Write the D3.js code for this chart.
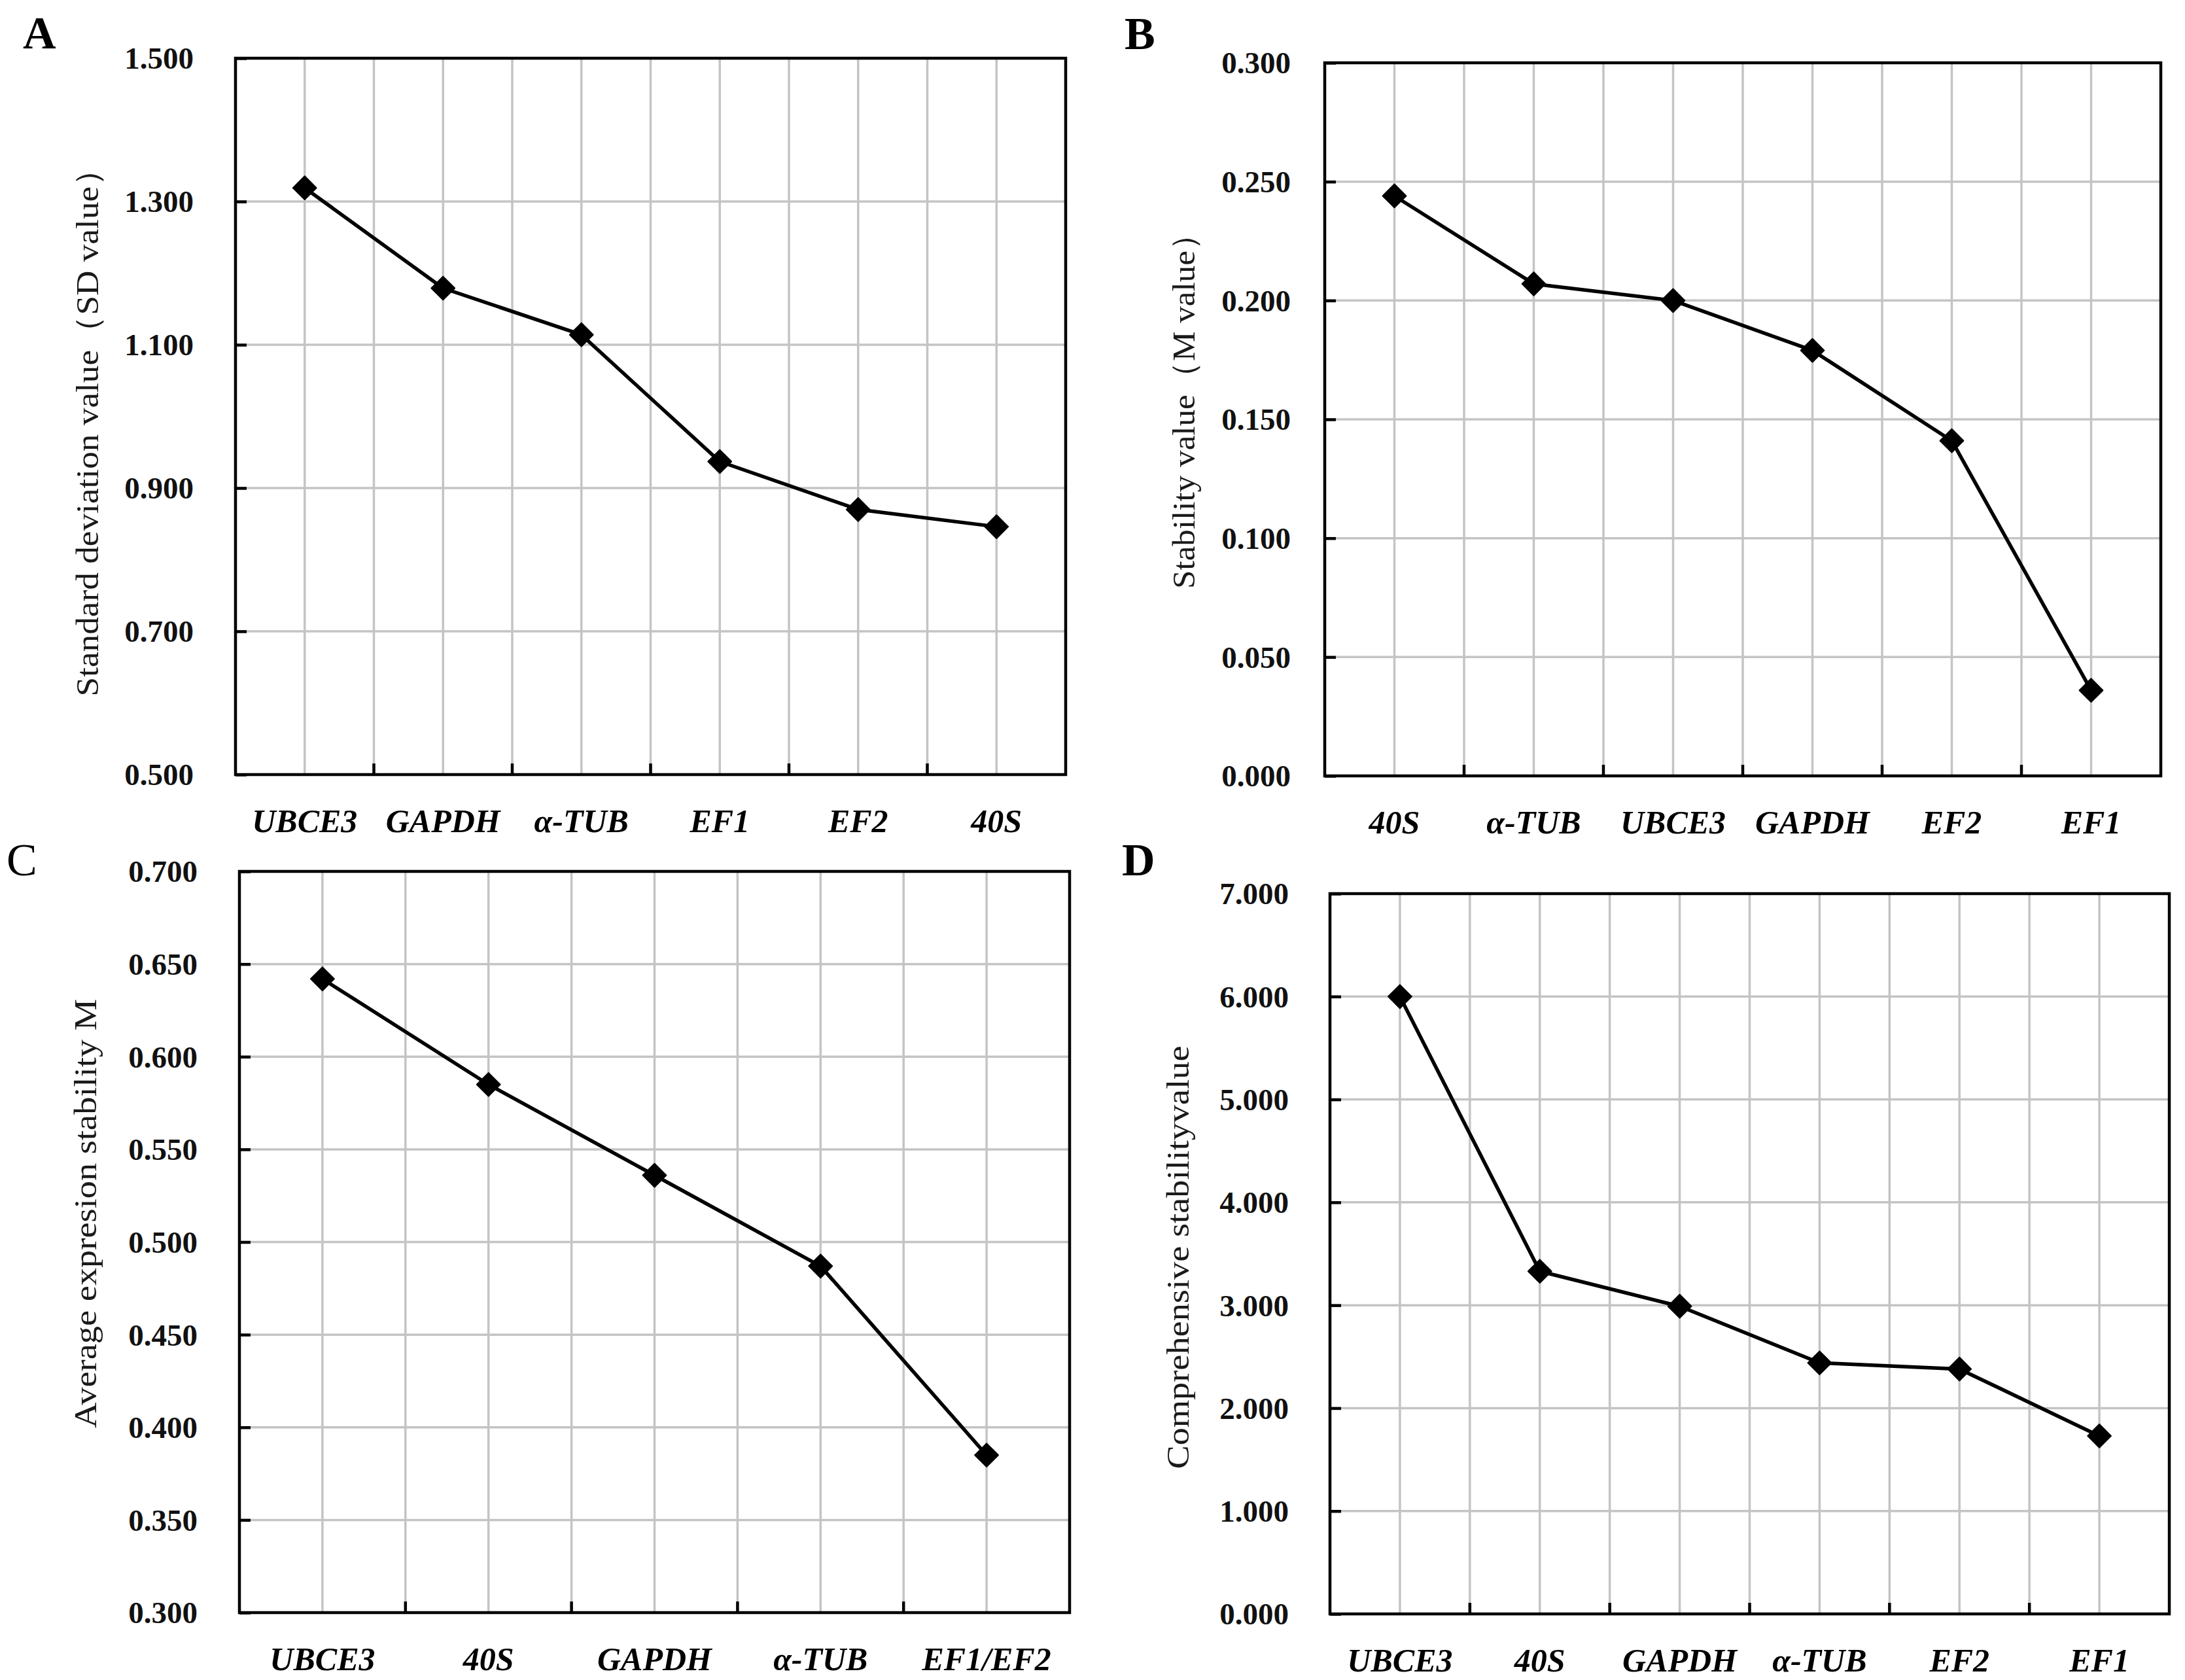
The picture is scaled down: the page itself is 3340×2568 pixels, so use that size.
<!DOCTYPE html>
<html>
<head>
<meta charset="utf-8">
<script src="https://cdn.jsdelivr.net/npm/d3@7"></script>
<style>
  html, body { margin: 0; padding: 0; background: #fff; }
  svg { display: block; }
</style>
</head>
<body>
<svg id="chart" width="3340" height="2568"></svg>
<script>
// ---------- DATA ----------
const catsA = ["UBCE3", "GAPDH", "α-TUB", "EF1", "EF2", "40S"];
const valsA = [1.319, 1.179, 1.114, 0.937, 0.870, 0.846];
const ticksA = [0.5, 0.7, 0.9, 1.1, 1.3, 1.5];
const titleA = "Standard deviation  value（SD value）";

const catsB = ["40S", "α-TUB", "UBCE3", "GAPDH", "EF2", "EF1"];
const valsB = [0.244, 0.207, 0.200, 0.179, 0.141, 0.036];
const ticksB = [0, 0.05, 0.10, 0.15, 0.20, 0.25, 0.30];
const titleB = "Stability value（M value）";

const catsC = ["UBCE3", "40S", "GAPDH", "α-TUB", "EF1/EF2"];
const valsC = [0.642, 0.585, 0.536, 0.487, 0.385];
const ticksC = [0.30, 0.35, 0.40, 0.45, 0.50, 0.55, 0.60, 0.65, 0.70];
const titleC = "Average expresion stability M";

const catsD = ["UBCE3", "40S", "GAPDH", "α-TUB", "EF2", "EF1"];
const valsD = [6.000, 3.330, 2.990, 2.440, 2.380, 1.730];
const ticksD = [0, 1, 2, 3, 4, 5, 6, 7];
const titleD = "Comprehensive stabilityvalue";

const panelLetters = ["A", "B", "C", "D"];

// ---------- LAYOUT ----------
const layout = [
  { left: 360, right: 1629, top: 89, bottom: 1184, gap: 64, titleX: 150, titleY: 648, titleLen: 833,
    letterX: 35, letterY: 74, letterWeight: "bold" },
  { left: 2025, right: 3303, top: 96, bottom: 1186, gap: 52, titleX: 1826, titleY: 616, titleLen: 568,
    letterX: 1719, letterY: 75, letterWeight: "bold" },
  { left: 366, right: 1635, top: 1332, bottom: 2465, gap: 64, titleX: 147, titleY: 1855, titleLen: 656,
    letterX: 10, letterY: 1338, letterWeight: "normal" },
  { left: 2033, right: 3316, top: 1366, bottom: 2467, gap: 63, titleX: 1817, titleY: 1922, titleLen: 647,
    letterX: 1715, letterY: 1338, letterWeight: "bold" }
];

const panels = [
  { cats: catsA, vals: valsA, ticks: ticksA, title: titleA },
  { cats: catsB, vals: valsB, ticks: ticksB, title: titleB },
  { cats: catsC, vals: valsC, ticks: ticksC, title: titleC },
  { cats: catsD, vals: valsD, ticks: ticksD, title: titleD }
];

const svg = d3.select("#chart");
const serif = "'Liberation Serif', 'Times New Roman', serif";
const gridColor = "#c4c4c4";

panels.forEach((p, i) => {
  const L = layout[i];
  const w = L.right - L.left, h = L.bottom - L.top;
  const g = svg.append("g").attr("transform", `translate(${L.left},${L.top})`);

  const x = d3.scaleBand().domain(p.cats).range([0, w]).paddingInner(0).paddingOuter(0);
  const bw = x.bandwidth();
  const cx = c => x(c) + bw / 2;
  const y = d3.scaleLinear().domain([p.ticks[0], p.ticks[p.ticks.length - 1]]).range([h, 0]);

  // vertical gridlines: category centers and inner boundaries
  const vLines = [];
  p.cats.forEach((c, k) => {
    vLines.push(cx(c));
    if (k > 0) vLines.push(x(c));
  });
  g.append("g").selectAll("line").data(vLines).join("line")
    .attr("x1", d => d).attr("x2", d => d).attr("y1", 0).attr("y2", h)
    .attr("stroke", gridColor).attr("stroke-width", 3.5);

  // horizontal gridlines
  g.append("g").selectAll("line").data(p.ticks.slice(1, -1)).join("line")
    .attr("x1", 0).attr("x2", w).attr("y1", d => y(d)).attr("y2", d => y(d))
    .attr("stroke", gridColor).attr("stroke-width", 3.5);

  // y axis with inward ticks
  const yAxis = d3.axisLeft(y).tickValues(p.ticks).tickFormat(d3.format(".3f"))
    .tickSizeInner(-17).tickSizeOuter(0).tickPadding(L.gap);
  const ya = g.append("g").call(yAxis);
  ya.select(".domain").remove();
  ya.selectAll(".tick line").attr("stroke", "#000").attr("stroke-width", 4.5);
  ya.selectAll(".tick text")
    .attr("font-family", serif).attr("font-size", 47).attr("font-weight", "bold")
    .attr("fill", "#111").attr("dy", "0.34em");

  // x axis labels
  const xAxis = d3.axisBottom(x).tickSize(0).tickPadding(52);
  const xa = g.append("g").attr("transform", `translate(0,${h})`).call(xAxis);
  xa.select(".domain").remove();
  xa.selectAll(".tick text")
    .attr("font-family", serif).attr("font-size", 50).attr("font-weight", "bold")
    .attr("font-style", "italic").attr("fill", "#000");

  // bottom inward ticks at category boundaries
  g.append("g").selectAll("line").data(p.cats.slice(1)).join("line")
    .attr("x1", d => x(d)).attr("x2", d => x(d)).attr("y1", h).attr("y2", h - 17)
    .attr("stroke", "#000").attr("stroke-width", 4.5);

  // frame
  g.append("rect").attr("x", 0).attr("y", 0).attr("width", w).attr("height", h)
    .attr("fill", "none").attr("stroke", "#000").attr("stroke-width", 4.5);

  // data line
  const line = d3.line().x((d, k) => cx(p.cats[k])).y(d => y(d));
  g.append("path").datum(p.vals).attr("d", line)
    .attr("fill", "none").attr("stroke", "#000").attr("stroke-width", 5.5)
    .attr("stroke-linejoin", "round");

  // markers (rotated squares)
  const sym = d3.symbol().type(d3.symbolSquare).size(640);
  g.append("g").selectAll("path").data(p.vals).join("path")
    .attr("d", sym)
    .attr("transform", (d, k) => `translate(${cx(p.cats[k])},${y(d)}) rotate(45)`)
    .attr("fill", "#000").attr("stroke", "#000").attr("stroke-width", 2)
    .attr("stroke-linejoin", "round");

  // y title
  svg.append("text")
    .attr("transform", `translate(${L.titleX},${L.titleY}) rotate(-90)`)
    .attr("text-anchor", "middle")
    .attr("font-family", serif).attr("font-size", 49).attr("fill", "#1a1a1a")
    .attr("textLength", L.titleLen).attr("lengthAdjust", "spacingAndGlyphs")
    .text(p.title);

  // panel letter
  svg.append("text")
    .attr("x", L.letterX).attr("y", L.letterY)
    .attr("font-family", serif).attr("font-size", 70).attr("font-weight", L.letterWeight)
    .attr("fill", "#000")
    .text(panelLetters[i]);
});
</script>
</body>
</html>
